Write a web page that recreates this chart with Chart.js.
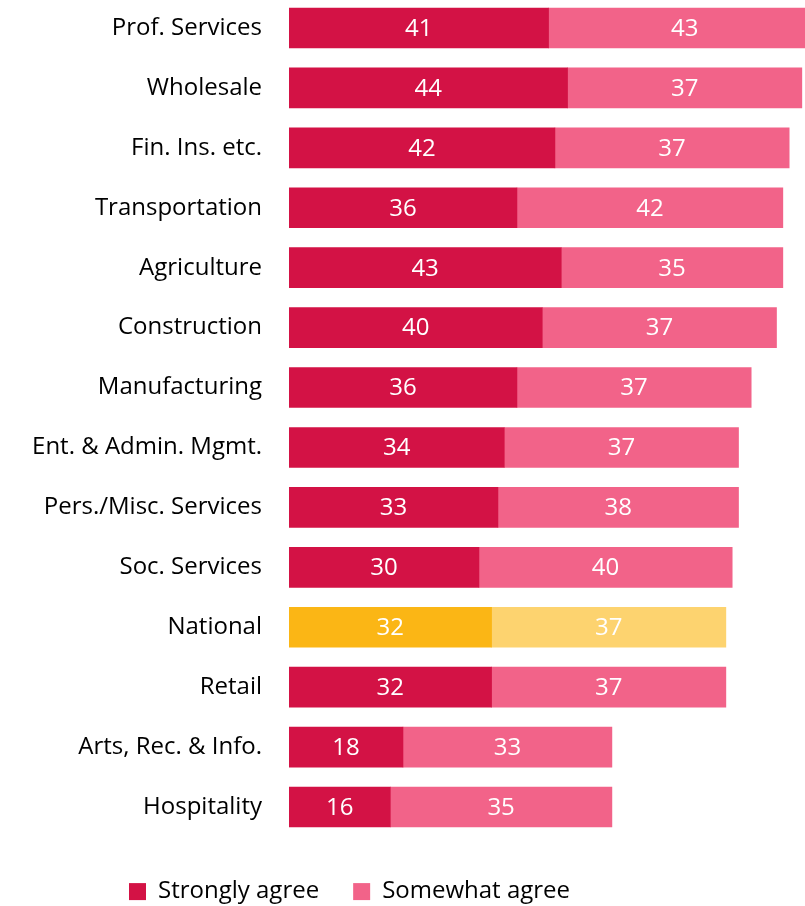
<!DOCTYPE html>
<html>
<head>
<meta charset="utf-8">
<script src="https://cdn.jsdelivr.net/npm/chart.js@4.4.1/dist/chart.umd.min.js"></script>
<style>
  html, body { margin: 0; padding: 0; background: #fff; overflow: hidden; }
  #wrap { width: 805px; height: 908px; position: relative; margin-top: -2px; }
</style>
</head>
<body>
<div id="wrap"><canvas id="agreeChart"></canvas></div>
<script>
// data
const categories = ['Prof. Services', 'Wholesale', 'Fin. Ins. etc.', 'Transportation', 'Agriculture',
  'Construction', 'Manufacturing', 'Ent. & Admin. Mgmt.', 'Pers./Misc. Services', 'Soc. Services',
  'National', 'Retail', 'Arts, Rec. & Info.', 'Hospitality'];
const stronglyAgree = [41, 44, 42, 36, 43, 40, 36, 34, 33, 30, 32, 32, 18, 16];
const somewhatAgree = [43, 37, 37, 42, 35, 37, 37, 37, 38, 40, 37, 37, 33, 35];

const FONT = "'Open Sans', 'Noto Sans', sans-serif";
const STRONG = '#d31245';
const SOME = '#f26389';

// National row gets its own colours
const strongColors = categories.map(c => c === 'National' ? '#fbb615' : STRONG);
const someColors = categories.map(c => c === 'National' ? '#fdd36f' : SOME);

// white value labels inside the bars
const barLabels = {
  id: 'barLabels',
  beforeDraw(chart) {
    // legend sits left of centre in the original
    chart.legend.left = 95;
  },
  afterDatasetsDraw(chart) {
    const ctx = chart.ctx;
    ctx.save();
    ctx.fillStyle = '#fff';
    ctx.font = '24px ' + FONT;
    ctx.textAlign = 'center';
    ctx.textBaseline = 'middle';
    chart.data.datasets.forEach((ds, i) => {
      chart.getDatasetMeta(i).data.forEach((bar, j) => {
        const x = (bar.x + bar.base) / 2;
        ctx.fillText(ds.data[j], x, bar.y + 1);
      });
    });
    ctx.restore();
  }
};

const ctx = document.getElementById('agreeChart').getContext('2d');

const agreeChart = new Chart(ctx, {
  type: 'bar',
  data: {
    labels: categories,
    datasets: [
      {
        label: 'Strongly agree',
        data: stronglyAgree,
        backgroundColor: strongColors,
        barThickness: 40
      },
      {
        label: 'Somewhat agree',
        data: somewhatAgree,
        backgroundColor: someColors,
        barThickness: 40
      }
    ]
  },
  options: {
    indexAxis: 'y',
    responsive: true,
    maintainAspectRatio: false,
    animation: false,
    layout: {
      padding: 0
    },
    plugins: {
      legend: {
        position: 'bottom',
        align: 'start',
        maxHeight: 69,
        title: {
          display: true,
          text: '',
          font: { size: 1 },
          padding: { top: 0, bottom: 7.4 }
        },
        labels: {
          boxWidth: 17,
          boxHeight: 17,
          padding: 34,
          color: '#000',
          font: { family: FONT, size: 24 },
          generateLabels: (chart) => chart.data.datasets.map((ds, i) => ({
            text: ds.label,
            fillStyle: i === 0 ? STRONG : SOME,
            strokeStyle: 'transparent',
            fontColor: '#000',
            lineWidth: 0,
            datasetIndex: i
          }))
        }
      },
      tooltip: { enabled: false }
    },
    scales: {
      x: {
        stacked: true,
        display: false,
        min: 0,
        max: 81.5
      },
      y: {
        stacked: true,
        grid: { display: false, drawTicks: false },
        border: { display: false },
        ticks: {
          color: '#000',
          padding: 27,
          font: { family: FONT, size: 24 }
        },
        afterFit(scale) {
          scale.width = 289;
          scale.paddingTop = 0;
          scale.paddingBottom = 0;
        }
      }
    }
  },
  plugins: [barLabels]
});
</script>
</body>
</html>
